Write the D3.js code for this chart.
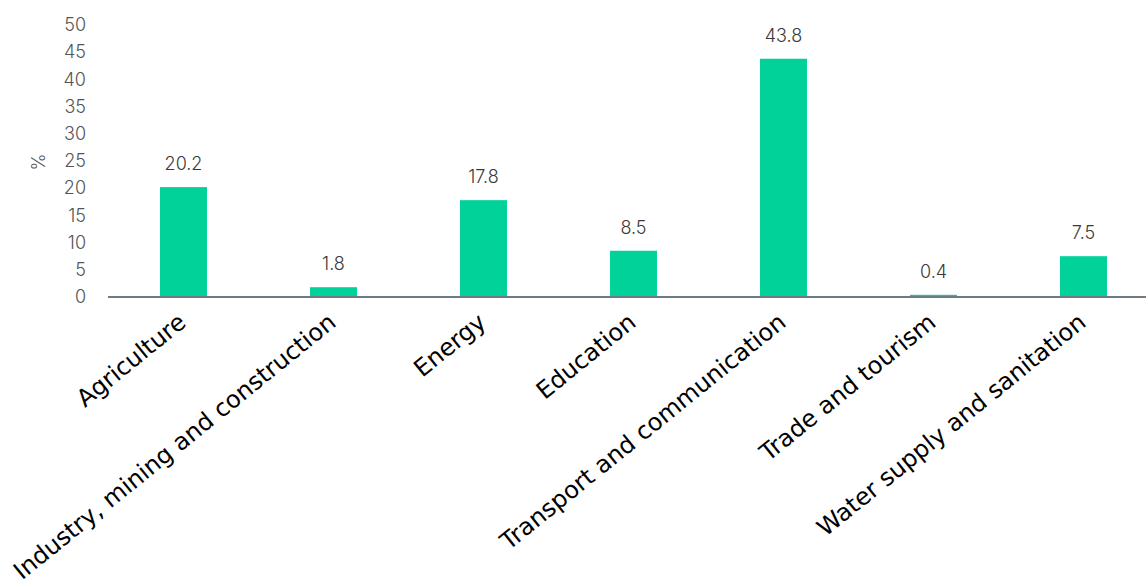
<!DOCTYPE html>
<html>
<head>
<meta charset="utf-8">
<script src="https://cdn.jsdelivr.net/npm/d3@7"></script>
<style>
  html, body { margin: 0; padding: 0; background: #fff; }
  svg { display: block; }
</style>
</head>
<body>
<svg id="chart" width="1146" height="584"></svg>
<script>
// Sector shares (%)
const categories = [
  "Agriculture",
  "Industry, mining and construction",
  "Energy",
  "Education",
  "Transport and communication",
  "Trade and tourism",
  "Water supply and sanitation"
];
const values = [20.2, 1.8, 17.8, 8.5, 43.8, 0.4, 7.5];
const yTicks = [0, 5, 10, 15, 20, 25, 30, 35, 40, 45, 50];
const yLabel = "%";

const svg = d3.select("#chart");

const x = d3.scaleBand()
  .domain(categories)
  .range([108.5, 1158.5])
  .paddingInner(0.687)
  .paddingOuter(0.3435);

const y = d3.scaleLinear()
  .domain([0, 50])
  .range([297, 25]);

// Y axis tick labels (no axis line)
const yAxis = svg.append("g")
  .attr("transform", "translate(86,0)")
  .call(d3.axisLeft(y).tickValues(yTicks).tickSize(0).tickPadding(0));
yAxis.select(".domain").remove();
yAxis.selectAll("text")
  .attr("font-family", "Inter, 'Open Sans', sans-serif")
  .attr("font-size", 18)
  .attr("font-weight", 300)
  .attr("fill", "#555");

// Y axis title
svg.append("text")
  .attr("transform", "translate(38,162) rotate(-90)")
  .attr("text-anchor", "middle")
  .attr("dominant-baseline", "central")
  .attr("font-family", "Inter, 'Open Sans', sans-serif")
  .attr("font-size", 18)
  .attr("font-weight", 300)
  .attr("fill", "#555")
  .text(yLabel);

// Bars
const data = categories.map((c, i) => ({ c, v: values[i] }));
svg.append("g").selectAll("rect")
  .data(data)
  .join("rect")
  .attr("x", d => x(d.c))
  .attr("width", x.bandwidth())
  .attr("y", d => y(d.v))
  .attr("height", d => y(0) - y(d.v))
  .attr("fill", "#00D29A");

// Value labels
svg.append("g").selectAll("text")
  .data(data)
  .join("text")
  .attr("x", d => x(d.c) + x.bandwidth() / 2)
  .attr("y", d => y(d.v) - 17)
  .attr("text-anchor", "middle")
  .attr("font-family", "Inter, 'Open Sans', sans-serif")
  .attr("font-size", 18)
  .attr("font-weight", 300)
  .attr("fill", "#3a3a3a")
  .text(d => d.v.toFixed(1));

// X axis baseline and rotated category labels
const xAxis = svg.append("g")
  .attr("transform", `translate(0,${y(0)})`)
  .call(d3.axisBottom(x).tickSize(0).tickPadding(0));
xAxis.select(".domain")
  .attr("d", "M108,0H1146")
  .attr("stroke", "#6e7b84")
  .attr("stroke-width", 2);
xAxis.selectAll(".tick text")
  .attr("font-family", "'DejaVu Sans', Verdana, sans-serif")
  .attr("font-size", 24)
  .attr("fill", "#000")
  .attr("text-anchor", "end")
  .attr("dy", null)
  .attr("y", null)
  .attr("transform", "translate(4,28) rotate(-39)");
</script>
</body>
</html>
